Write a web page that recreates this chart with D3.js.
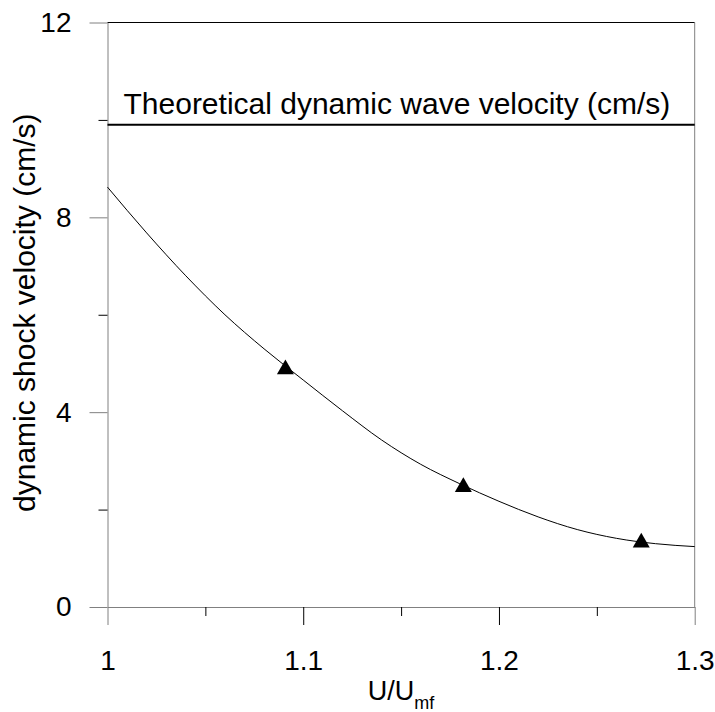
<!DOCTYPE html>
<html>
<head>
<meta charset="utf-8">
<script src="https://cdn.jsdelivr.net/npm/d3@7"></script>
<style>
  body { margin: 0; background: #fff; }
  text { font-family: "Liberation Sans", Arial, sans-serif; fill: #000; }
</style>
</head>
<body>
<div id="svganchor"></div>
<script>
let width = 715;
let height = 712;
let margin = { top: 22.5, right: 20.3, bottom: 105, left: 107.5 };

// smooth fitted curve
let curveRatio = [1.00, 1.02, 1.04, 1.06, 1.08, 1.10, 1.12, 1.14, 1.16, 1.18, 1.20, 1.22, 1.24, 1.26, 1.28, 1.30];
let curveShock = [8.62, 7.68, 6.80, 6.00, 5.30, 4.66, 4.03, 3.43, 2.93, 2.53, 2.17, 1.85, 1.59, 1.41, 1.30, 1.24];

// measured points (triangles)
let pointRatio = [1.0909, 1.1818, 1.2727];
let pointShock = [4.93, 2.51, 1.37];

let theoreticalVelocity = 9.9;
let theoreticalLabel = "Theoretical dynamic wave velocity (cm/s)";

let yTicks = [0, 2, 4, 6, 8, 10, 12];
let yLabels = [0, 4, 8, 12];
let xTicks = [1, 1.05, 1.1, 1.15, 1.2, 1.25, 1.3];
let xLabels = [1, 1.1, 1.2, 1.3];

let svg = d3.select("#svganchor").append("svg").attr("width", width).attr("height", height);

let xScale = d3.scaleLinear().domain([1, 1.3]).range([margin.left, width - margin.right]);
let yScale = d3.scaleLinear().domain([0, 12]).range([height - margin.bottom, margin.top]);

let axisGrey = "#808080";
let fontSize = 28;

// left axis
let yAxis = d3.axisLeft(yScale)
  .tickValues(yTicks)
  .tickFormat(function (d) { return yLabels.indexOf(d) >= 0 ? d : ""; })
  .tickSizeOuter(0);

let gy = svg.append("g")
  .attr("class", "y axis")
  .attr("transform", "translate(" + margin.left + ",0)")
  .call(yAxis);

gy.select(".domain").attr("stroke", axisGrey);
gy.selectAll(".tick line")
  .attr("stroke", function (d) { return yLabels.indexOf(d) >= 0 ? axisGrey : "#000"; })
  .attr("x2", function (d) { return yLabels.indexOf(d) >= 0 ? -18 : -9; });
gy.selectAll(".tick text")
  .attr("x", -36)
  .style("font-size", fontSize + "px")
  .style("font-family", '"Liberation Sans", Arial, sans-serif')
  .attr("fill", "#000");

// bottom axis
let xAxis = d3.axisBottom(xScale)
  .tickValues(xTicks)
  .tickFormat(function (d) { return xLabels.indexOf(d) >= 0 ? d3.format("")(d) : ""; })
  .tickSizeOuter(0);

let gx = svg.append("g")
  .attr("class", "x axis")
  .attr("transform", "translate(0," + (height - margin.bottom) + ")")
  .call(xAxis);

gx.select(".domain").attr("stroke", axisGrey);
gx.selectAll(".tick line")
  .attr("stroke", function (d) { return d === 1 || d === 1.3 ? axisGrey : "#000"; })
  .attr("y2", function (d) { return xLabels.indexOf(d) >= 0 ? 18 : 9; });
gx.selectAll(".tick text")
  .attr("y", 63)
  .attr("dy", 0)
  .style("font-size", fontSize + "px")
  .style("font-family", '"Liberation Sans", Arial, sans-serif')
  .attr("fill", "#000");

// frame: top (black) and right (grey)
svg.append("line")
  .attr("x1", margin.left).attr("x2", xScale(1.3))
  .attr("y1", yScale(12)).attr("y2", yScale(12))
  .attr("stroke", "#000").attr("stroke-width", 1);

svg.append("line")
  .attr("x1", xScale(1.3)).attr("x2", xScale(1.3))
  .attr("y1", yScale(12)).attr("y2", yScale(0))
  .attr("stroke", axisGrey).attr("stroke-width", 1);

// theoretical velocity line
svg.append("line")
  .attr("x1", xScale(1)).attr("x2", xScale(1.3))
  .attr("y1", yScale(theoreticalVelocity)).attr("y2", yScale(theoreticalVelocity))
  .attr("stroke", "#000").attr("stroke-width", 2);

svg.append("text")
  .attr("x", xScale(1) + 16)
  .attr("y", yScale(theoreticalVelocity) - 11)
  .style("font-size", "30px")
  .text(theoreticalLabel);

// fitted curve
let curveData = curveRatio.map(function (r, i) { return { x: r, y: curveShock[i] }; });

let line = d3.line()
  .x(function (d) { return xScale(d.x); })
  .y(function (d) { return yScale(d.y); })
  .curve(d3.curveMonotoneX);

svg.append("path")
  .datum(curveData)
  .attr("fill", "none")
  .attr("stroke", "#000")
  .attr("stroke-width", 1)
  .attr("d", line);

// triangles
let pointData = pointRatio.map(function (r, i) { return { x: r, y: pointShock[i] }; });
let tri = d3.symbol().type(d3.symbolTriangle).size(125);

svg.selectAll(".pt")
  .data(pointData)
  .enter()
  .append("path")
  .attr("class", "pt")
  .attr("d", tri)
  .attr("fill", "#000")
  .attr("transform", function (d) {
    return "translate(" + xScale(d.x) + "," + (yScale(d.y) + 2.4) + ")";
  });

// axis titles
svg.append("text")
  .attr("transform", "translate(35," + ((yScale(0) + yScale(12)) / 2 - 2) + ") rotate(-90)")
  .attr("text-anchor", "middle")
  .style("font-size", "30px")
  .text("dynamic shock velocity (cm/s)");

let xTitle = svg.append("text")
  .attr("x", (xScale(1) + xScale(1.3)) / 2)
  .attr("y", 700)
  .attr("text-anchor", "middle")
  .style("font-size", "27px");

xTitle.append("tspan").text("U/U");
xTitle.append("tspan").attr("dy", 9).style("font-size", "18px").text("mf");
</script>
</body>
</html>
